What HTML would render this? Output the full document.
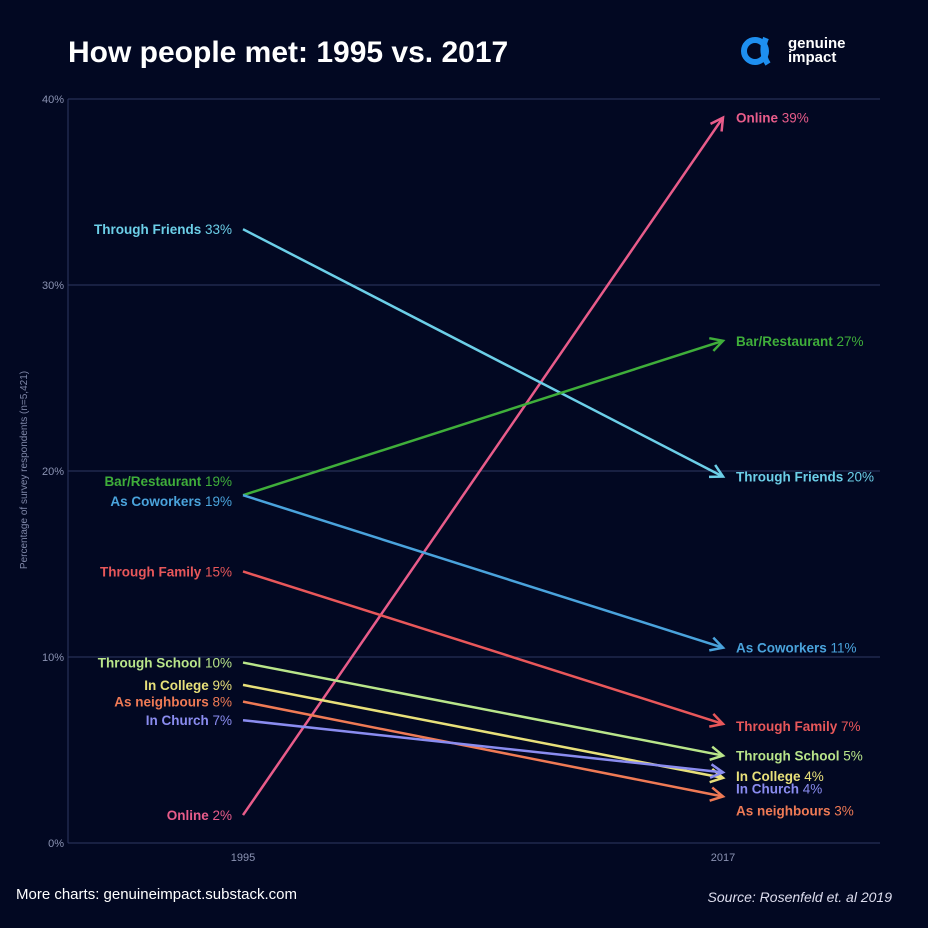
<!DOCTYPE html>
<html><head><meta charset="utf-8"><style>
body{margin:0;background:#020822;}
svg{display:block;font-family:"Liberation Sans",sans-serif;}
</style></head><body>
<svg id="c" width="928" height="928" viewBox="0 0 928 928">
<rect width="928" height="928" fill="#020822"/>
<text x="68" y="62" fill="#fff" font-size="30" font-weight="bold">How people met: 1995 vs. 2017</text>
<g>
<circle cx="755" cy="51" r="11" fill="none" stroke="#1e8ff0" stroke-width="6"/>
<path d="M766 38 Q760 52 768 64" fill="none" stroke="#1e8ff0" stroke-width="6"/>
<text x="788" y="48" fill="#fff" font-size="15" font-weight="bold">genuine</text>
<text x="788" y="62" fill="#fff" font-size="15" font-weight="bold">impact</text>
</g>
<g id="grid"></g>
<g id="lines"></g>
<text x="27" y="470" fill="#7f87a8" font-size="10" transform="rotate(-90 27 470)" text-anchor="middle">Percentage of survey respondents (n=5,421)</text>
<text x="16" y="899" fill="#fff" font-size="15">More charts: genuineimpact.substack.com</text>
<text x="892" y="902" fill="#dde" font-size="14" font-style="italic" text-anchor="end">Source: Rosenfeld et. al 2019</text>
</svg>
<script>
const categories=["Online","Through Friends","Bar/Restaurant","As Coworkers","Through Family","Through School","In College","As neighbours","In Church"];
const v1995=[1.5,33,18.7,18.7,14.6,9.7,8.5,7.6,6.6];
const v2017=[39,19.7,27,10.5,6.4,4.7,3.5,2.5,3.8];
const lab1995=["2%","33%","19%","19%","15%","10%","9%","8%","7%"];
const lab2017=["39%","20%","27%","11%","7%","5%","4%","3%","4%"];
const colors=["#e85c8a","#6ccfe8","#3fae3a","#4aa3dc","#e8575a","#b9e58a","#e8e07a","#ef7a55","#8a8cf0"];
const yTicks=[0,10,20,30,40];
const years=["1995","2017"];
const NS="http://www.w3.org/2000/svg";
const y=v=>843-v*18.6;
const x=i=>i===0?243:723;
function mk(t,a,p){const e=document.createElementNS(NS,t);for(const k in a)e.setAttribute(k,a[k]);p.appendChild(e);return e;}
const grid=document.getElementById('grid'),lines=document.getElementById('lines');
yTicks.forEach(t=>{
 const l=mk('line',{x1:68,x2:880,y1:y(t),y2:y(t),stroke:"#2e3762","stroke-width":1},grid);
 
 
 const tx=mk('text',{x:64,y:y(t)+4,fill:"#8b93b3","font-size":11,"text-anchor":"end"},grid);
 tx.textContent=t+"%";
 
 
});
const ax=mk('line',{x1:68,x2:68,y1:y(40),y2:y(0),stroke:"#2e3762"},grid);


years.forEach((yr,i)=>{const t=mk('text',{x:x(i),y:861,fill:"#8b93b3","font-size":11,"text-anchor":"middle"},grid);t.textContent=yr;
 
 });
// label nudges (px) to avoid overlap
const dy1=[0,0,-14,6,0,0,0,0,0];
const dy2=[0,0,0,0,2,0,-2,14,16];
categories.forEach((c,i)=>{
 const g=mk('g',{},lines);
 
 
 const x1=x(0),y1=y(v1995[i]),x2=x(1),y2=y(v2017[i]);
 mk('line',{x1,y1,x2,y2,stroke:colors[i],"stroke-width":2.5},g);
 const a=Math.atan2(y2-y1,x2-x1),L=14;
 const p=[[x2-L*Math.cos(a-0.5),y2-L*Math.sin(a-0.5)],[x2,y2],[x2-L*Math.cos(a+0.5),y2-L*Math.sin(a+0.5)]];
 mk('polyline',{points:p.map(q=>q.join(',')).join(' '),fill:"none",stroke:colors[i],"stroke-width":2.5},g);
 const t1=mk('text',{x:232,y:y1+5+dy1[i],fill:colors[i],"font-size":13.5,"text-anchor":"end"},g);
 t1.innerHTML='<tspan font-weight="bold">'+c+'</tspan> '+lab1995[i];
 const t2=mk('text',{x:736,y:y2+5+dy2[i],fill:colors[i],"font-size":13.5},g);
 t2.innerHTML='<tspan font-weight="bold">'+c+'</tspan> '+lab2017[i];
});
</script>
</body></html>
